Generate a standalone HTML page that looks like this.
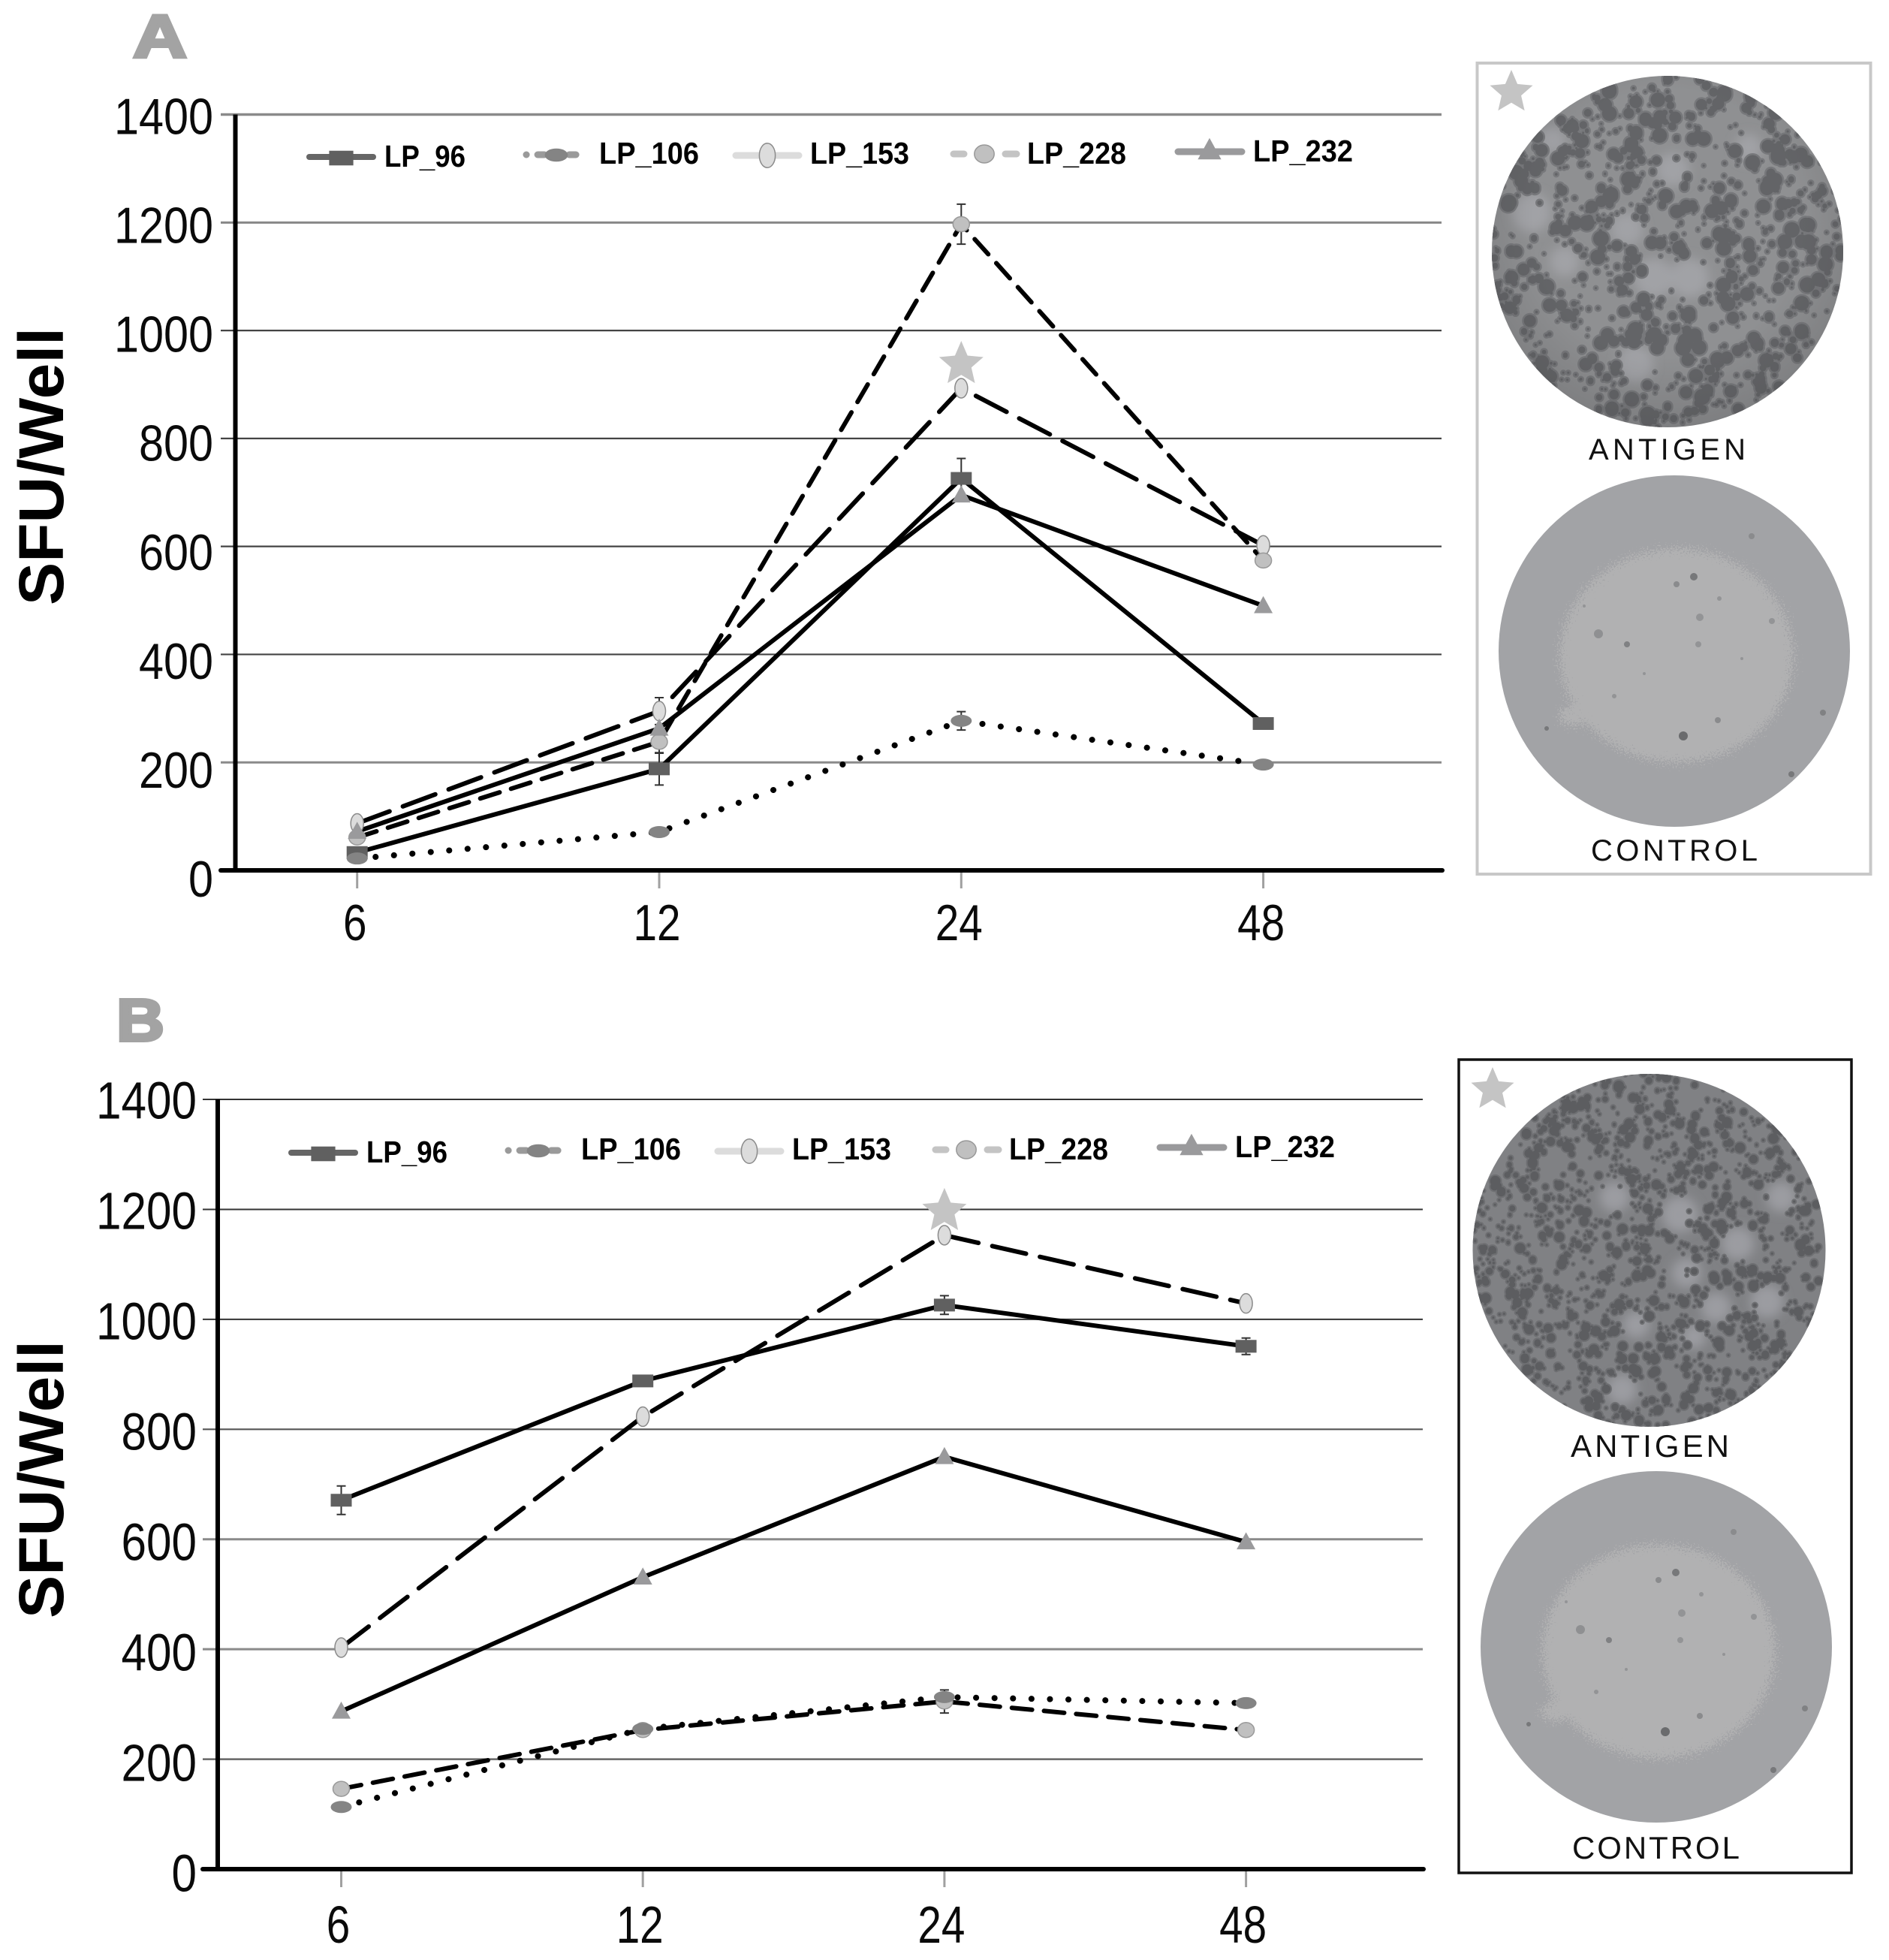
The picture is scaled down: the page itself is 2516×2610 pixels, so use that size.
<!DOCTYPE html>
<html lang="en">
<head>
<meta charset="utf-8">
<title>SFU per well over time, panels A and B</title>
<style>
html,body{margin:0;padding:0;background:#fff;}
svg{display:block;font-family:"Liberation Sans",sans-serif;}
</style>
</head>
<body>
<svg id="figure" xmlns="http://www.w3.org/2000/svg" width="2516" height="2610" viewBox="0 0 2516 2610">
  <defs>
    <filter id="softPatch" filterUnits="userSpaceOnUse" x="1900" y="50" width="616" height="1900">
      <feGaussianBlur stdDeviation="7"/>
    </filter>
    <filter id="noisyEdge" filterUnits="objectBoundingBox" x="-20%" y="-20%" width="140%" height="140%">
      <feTurbulence type="fractalNoise" baseFrequency="0.5" numOctaves="2" seed="4" result="n"/>
      <feDisplacementMap in="SourceGraphic" in2="n" scale="44" xChannelSelector="R" yChannelSelector="G"/>
    </filter>
    <clipPath id="clipAntigenA"><circle cx="2221" cy="335" r="234"/></clipPath>
    <clipPath id="clipAntigenB"><circle cx="2196.5" cy="1665" r="235"/></clipPath>
    <radialGradient id="darkEdge" cx="50%" cy="42%" r="58%">
      <stop offset="65%" stop-color="#404042" stop-opacity="0"/>
      <stop offset="100%" stop-color="#404042" stop-opacity=".22"/>
    </radialGradient>
  </defs>

  <rect x="0" y="0" width="2516" height="2610" fill="#ffffff"/>

  <text x="177" y="76" font-size="81" font-weight="700" fill="#a3a3a3" stroke="#a3a3a3" stroke-width="4" textLength="72" lengthAdjust="spacingAndGlyphs">A</text>
  <text x="155" y="1386" font-size="80" font-weight="700" fill="#a3a3a3" stroke="#a3a3a3" stroke-width="4" textLength="64" lengthAdjust="spacingAndGlyphs">B</text>

  <g id="chartA"></g>
  <g id="chartB"></g>

  <g>
    <rect x="1967.5" y="84" width="524" height="1080" fill="#ffffff" stroke="#c8c8c8" stroke-width="4"/>
    <g id="antigenA" clip-path="url(#clipAntigenA)"></g>
    <text x="2116" y="612" font-size="40" fill="#111" textLength="209" lengthAdjust="spacing">ANTIGEN</text>
    <g id="controlA"></g>
    <text x="2119" y="1146" font-size="40" fill="#111" textLength="222" lengthAdjust="spacing">CONTROL</text>
    <polygon transform="translate(2013 123) scale(30)" fill="#c4c4c4" points="0,-1 .27,-.37 .951,-.309 .435,.142 .588,.809 0,.46 -.588,.809 -.435,.142 -.951,-.309 -.27,-.37"/>
  </g>

  <g>
    <rect x="1953" y="1418" width="523" height="1083" fill="#ffffff" stroke="#111111" stroke-width="3.5" transform="translate(-10 -7)"/>
    <g id="antigenB" clip-path="url(#clipAntigenB)"></g>
    <text x="2092" y="1940" font-size="42" fill="#111" textLength="211" lengthAdjust="spacing">ANTIGEN</text>
    <g id="controlB"></g>
    <text x="2094" y="2475" font-size="42" fill="#111" textLength="223" lengthAdjust="spacing">CONTROL</text>
    <polygon transform="translate(1988 1451) scale(30)" fill="#c4c4c4" points="0,-1 .27,-.37 .951,-.309 .435,.142 .588,.809 0,.46 -.588,.809 -.435,.142 -.951,-.309 -.27,-.37"/>
  </g>
</svg>

<script>
// ---- chart data ----
var categories = ["6", "12", "24", "48"];
var yTickValues = [0, 200, 400, 600, 800, 1000, 1200, 1400];
var seriesKeys = ["LP_96", "LP_106", "LP_153", "LP_228", "LP_232"];

var a_lp96  = [33, 188, 726, 272];
var a_lp106 = [22, 71, 277, 196];
var a_lp153 = [87, 295, 893, 602];
var a_lp228 = [61, 238, 1197, 574];
var a_lp232 = [72, 263, 695, 490];

var a_lp96_err  = [0, 30, 37, 0];
var a_lp106_err = [0, 0, 17, 0];
var a_lp153_err = [0, 25, 0, 0];
var a_lp228_err = [0, 21, 37, 0];
var a_lp232_err = [0, 0, 0, 0];

var b_lp96  = [671, 888, 1026, 951];
var b_lp106 = [113, 255, 313, 302];
var b_lp153 = [403, 823, 1153, 1029];
var b_lp228 = [146, 253, 305, 253];
var b_lp232 = [287, 531, 750, 595];

var b_lp96_err  = [26, 0, 17, 15];
var b_lp106_err = [0, 0, 0, 0];
var b_lp153_err = [0, 0, 0, 0];
var b_lp228_err = [0, 0, 21, 0];
var b_lp232_err = [0, 0, 0, 0];

// ---- drawing ----
var NS = "http://www.w3.org/2000/svg";
function make(tag, attrs, parent, text) {
  var n = document.createElementNS(NS, tag);
  for (var k in attrs) n.setAttribute(k, attrs[k]);
  if (text !== undefined) n.textContent = text;
  parent.appendChild(n);
  return n;
}

var STAR = "0,-1 .27,-.37 .951,-.309 .435,.142 .588,.809 0,.46 -.588,.809 -.435,.142 -.951,-.309 -.27,-.37";

var lineDash = {
  "LP_96": "",
  "LP_106": "0.1 24.5",
  "LP_153": "46 19",
  "LP_228": "27 16",
  "LP_232": ""
};
var lineWidth = {
  "LP_96": 6,
  "LP_106": 8,
  "LP_153": 6,
  "LP_228": 6,
  "LP_232": 6
};

function drawMarker(key, cx, cy, parent, s) {
  var m;
  if (key === "LP_96") {
    m = make("rect", {x: cx - 14 * s, y: cy - 8.5 * s, width: 28 * s, height: 17 * s, fill: "#606060"}, parent);
  } else if (key === "LP_106") {
    m = make("ellipse", {cx: cx, cy: cy, rx: 14 * s, ry: 8 * s, fill: "#848484"}, parent);
  } else if (key === "LP_153") {
    m = make("ellipse", {cx: cx, cy: cy, rx: 8.5 * s, ry: 13 * s, fill: "#dcdcdc", stroke: "#8a8a8a", "stroke-width": 1.5}, parent);
  } else if (key === "LP_228") {
    m = make("ellipse", {cx: cx, cy: cy, rx: 11 * s, ry: 10 * s, fill: "#c0c0c0", stroke: "#999999", "stroke-width": 1.5}, parent);
  } else {
    var h = 13 * s;
    var w = 12.5 * s;
    m = make("polygon", {points: cx + "," + (cy - h) + " " + (cx + w) + "," + (cy + h * 0.75) + " " + (cx - w) + "," + (cy + h * 0.75), fill: "#9a9a9c"}, parent);
  }
  return m;
}

function drawChart(root, cfg, series) {
  function x(i) { return cfg.x0 + i * cfg.step; }
  function y(v) { return cfg.y0 - v * cfg.unit; }

  yTickValues.forEach(function (t, idx) {
    if (t !== 0) {
      var g = make("line", {x1: cfg.stub, x2: cfg.right, y1: y(t), y2: y(t), stroke: cfg.gridColor[idx], "stroke-width": cfg.gridWidth[idx]}, root);
      
      
    }
    var label = String(t);
    var off = cfg.labelOffBottom + (cfg.labelOffTop - cfg.labelOffBottom) * t / 1400;
    var tl = make("text", {x: cfg.labelRight, y: y(t) + off, "font-size": cfg.tickFont, "text-anchor": "end", fill: "#0a0a0a", textLength: label.length * cfg.digitW, lengthAdjust: "spacingAndGlyphs"}, root, label);
    
    
  });

  categories.forEach(function (c, i) {
    var tk = make("line", {x1: x(i), x2: x(i), y1: cfg.y0, y2: cfg.y0 + 24, stroke: "#a0a0a0", "stroke-width": 3}, root);
    
    
    var tx = make("text", {x: x(i) + cfg.xLabelShift, y: cfg.xLabelY, "font-size": cfg.tickFont, "text-anchor": "middle", fill: "#0a0a0a", textLength: c.length * cfg.xDigitW, lengthAdjust: "spacingAndGlyphs"}, root, c);
    
    
  });

  var yAxis = make("line", {x1: cfg.axisX, x2: cfg.axisX, y1: y(1400), y2: cfg.y0 + 3, stroke: "#000", "stroke-width": 6}, root);
  
  
  var xAxis = make("line", {x1: cfg.stub, x2: cfg.right + 1, y1: cfg.y0, y2: cfg.y0, stroke: "#000", "stroke-width": 6, "stroke-linecap": "round"}, root);
  
  

  var yt = make("text", {transform: "translate(" + cfg.titleX + " " + cfg.titleY + ") rotate(-90)", "font-size": 84, "font-weight": 700, fill: "#000", textLength: 370, lengthAdjust: "spacingAndGlyphs"}, root, "SFU/Well");
  
  

  series.forEach(function (s) {
    var pts = s.values.map(function (v, i) { return x(i) + "," + y(v); }).join(" ");
    var pl = make("polyline", {points: pts, fill: "none", stroke: "#000", "stroke-width": lineWidth[s.key], "stroke-dasharray": lineDash[s.key], "stroke-linecap": "round", "stroke-linejoin": "round"}, root);
    
    
  });

  series.forEach(function (s) {
    s.errors.forEach(function (e, i) {
      if (!e) return;
      var cx = x(i);
      var top = y(s.values[i] + e);
      var bot = y(s.values[i] - e);
      var eb = make("path", {d: "M" + cx + " " + top + "V" + bot + "M" + (cx - 6) + " " + top + "H" + (cx + 6) + "M" + (cx - 6) + " " + bot + "H" + (cx + 6), fill: "none", stroke: "#333", "stroke-width": 2}, root);
      
      
    });
  });

  series.forEach(function (s) {
    s.values.forEach(function (v, i) {
      var mk = drawMarker(s.key, x(i), y(v), root, 1);
      
      
    });
  });

  var sv = cfg.starSeries;
  var st = make("polygon", {points: STAR, fill: "#c4c4c4", transform: "translate(" + x(2) + " " + (y(sv[2]) - 32) + ") scale(31)"}, root);
  
  

  drawLegend(root, cfg.legendDx, cfg.legendDy);
}

function drawLegend(root, dx, dy) {
  var lg = make("g", {transform: "translate(" + dx + " " + dy + ")"}, root);
  
  

  var e1 = make("g", {}, lg);
  
  
  make("line", {x1: 412, x2: 497, y1: 209, y2: 209, stroke: "#666", "stroke-width": 8, "stroke-linecap": "round"}, e1);
  drawMarker("LP_96", 454.5, 210.5, e1, 1.15);
  make("text", {x: 512, y: 222, "font-size": 41, "font-weight": 700, fill: "#000", textLength: 108, lengthAdjust: "spacingAndGlyphs"}, e1, "LP_96");

  var e2 = make("g", {}, lg);
  
  
  make("line", {x1: 701, x2: 782, y1: 206, y2: 206, stroke: "#9a9a9a", "stroke-width": 9, "stroke-dasharray": "0.1 15 9 33 9 15 0.1", "stroke-linecap": "round"}, e2);
  drawMarker("LP_106", 741, 206.5, e2, 1.1);
  make("text", {x: 798, y: 218, "font-size": 41, "font-weight": 700, fill: "#000", textLength: 133, lengthAdjust: "spacingAndGlyphs"}, e2, "LP_106");

  var e3 = make("g", {}, lg);
  
  
  make("line", {x1: 980, x2: 1064, y1: 207, y2: 207, stroke: "#dcdcdc", "stroke-width": 9, "stroke-linecap": "round"}, e3);
  drawMarker("LP_153", 1022, 207, e3, 1.25);
  make("text", {x: 1079, y: 218, "font-size": 41, "font-weight": 700, fill: "#000", textLength: 132, lengthAdjust: "spacingAndGlyphs"}, e3, "LP_153");

  var e4 = make("g", {}, lg);
  
  
  make("line", {x1: 1270, x2: 1284, y1: 205, y2: 205, stroke: "#c4c4c4", "stroke-width": 9, "stroke-linecap": "round"}, e4);
  make("line", {x1: 1339, x2: 1354, y1: 205, y2: 205, stroke: "#c4c4c4", "stroke-width": 9, "stroke-linecap": "round"}, e4);
  drawMarker("LP_228", 1311, 205, e4, 1.2);
  make("text", {x: 1368, y: 218, "font-size": 41, "font-weight": 700, fill: "#000", textLength: 132, lengthAdjust: "spacingAndGlyphs"}, e4, "LP_228");

  var e5 = make("g", {}, lg);
  
  
  make("line", {x1: 1569, x2: 1654, y1: 202, y2: 202, stroke: "#9a9a9c", "stroke-width": 9, "stroke-linecap": "round"}, e5);
  drawMarker("LP_232", 1611, 200, e5, 1.25);
  make("text", {x: 1669, y: 215, "font-size": 41, "font-weight": 700, fill: "#000", textLength: 133, lengthAdjust: "spacingAndGlyphs"}, e5, "LP_232");
}

function seededRandom(seed) {
  return function () {
    seed |= 0;
    seed = seed + 0x6D2B79F5 | 0;
    var t = Math.imul(seed ^ seed >>> 15, 1 | seed);
    t = t + Math.imul(t ^ t >>> 7, 61 | t) ^ t;
    return ((t ^ t >>> 14) >>> 0) / 4294967296;
  };
}

function circlePath(x, y, r) {
  var d = (2 * r).toFixed(1);
  return "M" + (x - r).toFixed(1) + " " + y.toFixed(1) + "a" + r.toFixed(1) + " " + r.toFixed(1) + " 0 1 0 " + d + " 0a" + r.toFixed(1) + " " + r.toFixed(1) + " 0 1 0 -" + d + " 0";
}

function drawAntigen(root, o) {
  var disc = make("circle", {cx: o.cx, cy: o.cy, r: 236, fill: o.base}, root);
  
  

  var patches = make("g", {filter: "url(#softPatch)"}, root);
  
  
  o.light.forEach(function (p) {
    make("circle", {cx: o.cx + p[0], cy: o.cy + p[1], r: p[2], fill: o.lightFill}, patches);
  });

  var rnd = seededRandom(o.seed);
  var halo = "", core = "", lastX = 0, lastY = 0;
  for (var i = 0; i < o.count; i++) {
    var px, py;
    if (rnd() < 0.4) {
      px = lastX + (rnd() - 0.5) * o.spread;
      py = lastY + (rnd() - 0.5) * o.spread;
    } else {
      var ang = rnd() * Math.PI * 2;
      var rad = 236 * Math.sqrt(rnd());
      px = Math.cos(ang) * rad;
      py = Math.sin(ang) * rad;
    }
    var rejected = false;
    for (var j = 0; j < o.light.length; j++) {
      var q = o.light[j];
      if (Math.hypot(px - q[0], py - q[1]) < q[2] && rnd() < 0.9) rejected = true;
    }
    if (rejected) continue;
    lastX = px;
    lastY = py;
    var r = o.minR + o.maxR * Math.pow(rnd(), 3);
    halo += circlePath(o.cx + px, o.cy + py, r + o.haloGrow);
    core += circlePath(o.cx + px, o.cy + py, r);
  }
  var hp = make("path", {d: halo, fill: o.haloFill}, root);
  
  
  var cp = make("path", {d: core, fill: o.coreFill}, root);
  
  
  if (o.shade) {
    var sh = make("circle", {cx: o.cx, cy: o.cy, r: 236, fill: "url(#darkEdge)"}, root);
    
    
  }
}

function drawControl(root, cx, cy) {
  var base = make("circle", {cx: cx, cy: cy, r: 234, fill: "#a2a3a6"}, root);
  
  
  var light = make("g", {filter: "url(#noisyEdge)"}, root);
  
  
  make("ellipse", {cx: cx + 3, cy: cy + 6, rx: 155, ry: 142, fill: "#b1b1b2"}, light);
  make("ellipse", {cx: cx - 135, cy: cy + 86, rx: 18, ry: 13, fill: "#b1b1b2"}, light);
  var specks = [[26,-99,5,"#77787a"],[3,-89,4,"#8a8b8d"],[-101,-23,6,"#8f9092"],[-63,-9,4,"#808183"],[12,113,6,"#6a6b6d"],[58,92,4,"#8a8b8d"],[-170,103,3,"#77787a"],[103,-153,4,"#8a8b8d"],[198,82,4,"#808183"],[156,164,4,"#77787a"],[34,-45,5,"#939496"],[32,-9,4,"#939496"],[130,-40,4,"#939496"],[-80,60,3,"#939496"],[-120,-60,2,"#939496"],[60,-70,3,"#939496"],[-40,30,2,"#939496"],[90,10,2,"#939496"]];
  specks.forEach(function (p) {
    var sp = make("circle", {cx: cx + p[0], cy: cy + p[1], r: p[2], fill: p[3]}, root);
    
    
  });
}

var seriesA = [
  {key: "LP_153", values: a_lp153, errors: a_lp153_err},
  {key: "LP_228", values: a_lp228, errors: a_lp228_err},
  {key: "LP_232", values: a_lp232, errors: a_lp232_err},
  {key: "LP_96", values: a_lp96, errors: a_lp96_err},
  {key: "LP_106", values: a_lp106, errors: a_lp106_err}
];
var seriesB = [
  {key: "LP_153", values: b_lp153, errors: b_lp153_err},
  {key: "LP_228", values: b_lp228, errors: b_lp228_err},
  {key: "LP_232", values: b_lp232, errors: b_lp232_err},
  {key: "LP_96", values: b_lp96, errors: b_lp96_err},
  {key: "LP_106", values: b_lp106, errors: b_lp106_err}
];

drawChart(document.getElementById("chartA"), {
  x0: 475.7, step: 402.3, y0: 1159, unit: 0.7189, stub: 294, right: 1920, axisX: 313.5,
  gridColor: ["#000", "#8a8a8a", "#444", "#444", "#444", "#444", "#888", "#8a8a8a"],
  gridWidth: [0, 3, 2.2, 2.2, 2.2, 2.2, 3, 3.5],
  labelRight: 284, labelOffBottom: 35, labelOffTop: 26, tickFont: 68, digitW: 33, xDigitW: 31.5, xLabelShift: -3, xLabelY: 1252,
  titleX: 84, titleY: 806, starSeries: a_lp153, legendDx: 0, legendDy: 0
}, seriesA);

drawChart(document.getElementById("chartB"), {
  x0: 454.5, step: 401.7, y0: 2489, unit: 0.7321, stub: 270, right: 1895, axisX: 290,
  gridColor: ["#000", "#666", "#8a8a8a", "#8a8a8a", "#555", "#333", "#333", "#333"],
  gridWidth: [0, 2.5, 3, 3, 2.2, 2, 2, 2],
  labelRight: 262, labelOffBottom: 29.5, labelOffTop: 25.5, tickFont: 70, digitW: 33.5, xDigitW: 31.5, xLabelShift: -4, xLabelY: 2587,
  titleX: 84, titleY: 2155, starSeries: b_lp153, legendDx: -24, legendDy: 1326
}, seriesB);

drawAntigen(document.getElementById("antigenA"), {
  cx: 2221, cy: 335, seed: 17, count: 1150, minR: 1.5, maxR: 9, haloGrow: 2.5, spread: 24, shade: true,
  base: "#8f9092", lightFill: "#a1a2a6", haloFill: "#77787b", coreFill: "#636467",
  light: [[-18,35,26],[29,35,26],[-54,-30,22],[-181,-52,26],[-43,150,24],[-137,13,20],[7,-109,22],[108,-138,18],[-155,-149,18]]
});
drawAntigen(document.getElementById("antigenB"), {
  cx: 2196.5, cy: 1665, seed: 41, count: 1700, minR: 1.5, maxR: 5.5, haloGrow: 2, spread: 20, shade: false,
  base: "#808184", lightFill: "#9b9ca1", haloFill: "#6e6f72", coreFill: "#5c5d60",
  light: [[-46,-71,20],[41,-48,24],[118,-9,22],[176,-71,20],[50,30,20],[157,68,22],[-17,99,18],[-36,185,20],[89,76,20],[60,115,16]]
});

drawControl(document.getElementById("controlA"), 2230, 867);
drawControl(document.getElementById("controlB"), 2206, 2193);
</script>
</body>
</html>
